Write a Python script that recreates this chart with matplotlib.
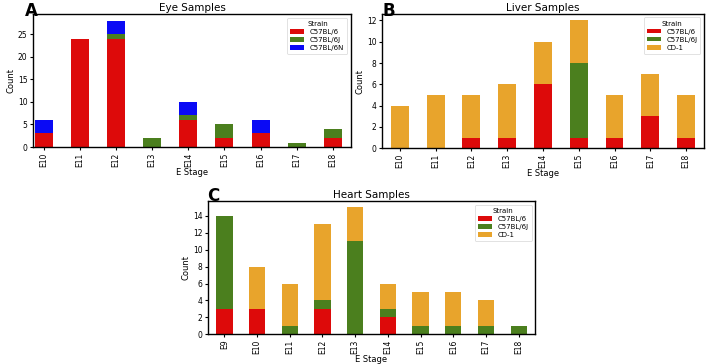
import numpy as np
import matplotlib
matplotlib.use("Agg")
import matplotlib.pyplot as plt

# colours for each strain
RED = "#dd0a0a"
GREEN = "#4b7f1e"
BLUE = "#0a0af5"
ORANGE = "#e8a42c"

eye_stages = ["E10", "E11", "E12", "E13", "E14", "E15", "E16", "E17", "E18"]
eye_b6 = [3, 24, 24, 0, 6, 2, 3, 0, 2]
eye_b6j = [0, 0, 1, 2, 1, 3, 0, 1, 2]
eye_b6n = [3, 0, 3, 0, 3, 0, 3, 0, 0]

liver_stages = ["E10", "E11", "E12", "E13", "E14", "E15", "E16", "E17", "E18"]
liver_b6 = [0, 0, 1, 1, 6, 1, 1, 3, 1]
liver_b6j = [0, 0, 0, 0, 0, 7, 0, 0, 0]
liver_cd1 = [4, 5, 4, 5, 4, 4, 4, 4, 4]

heart_stages = ["E9", "E10", "E11", "E12", "E13", "E14", "E15", "E16", "E17", "E18"]
heart_b6 = [3, 3, 0, 3, 0, 2, 0, 0, 0, 0]
heart_b6j = [11, 0, 1, 1, 11, 1, 1, 1, 1, 1]
heart_cd1 = [0, 5, 5, 9, 4, 3, 4, 4, 3, 0]


def stacked(ax, stages, series, title, xlim=None):
    x = np.arange(len(stages))
    bottom = np.zeros(len(stages))
    for name, vals, col in series:
        vals = np.array(vals, dtype=float)
        ax.bar(x, vals, 0.5, bottom=bottom, color=col, label=name)
        bottom += vals
    ax.set_xticks(x)
    ax.set_xticklabels(stages, rotation=90, fontsize=5.5)
    ax.tick_params(axis="y", labelsize=5.5, length=2.5, pad=1.5)
    ax.tick_params(axis="x", length=2.5, pad=1.5)
    ax.set_xlim(xlim if xlim else (-0.5, len(stages) - 0.5))
    ax.set_ylim(0, bottom.max() * 1.05)
    ax.set_title(title, fontsize=7.5, pad=2)
    ax.set_xlabel("E Stage", fontsize=6, labelpad=0.5)
    ax.set_ylabel("Count", fontsize=6, labelpad=2)
    leg = ax.legend(title="Strain", fontsize=5, title_fontsize=5,
                    loc="upper right", handlelength=2.0, handleheight=0.6,
                    borderpad=0.45, labelspacing=0.3)
    leg.get_frame().set_linewidth(0.5)
    for s in ax.spines.values():
        s.set_linewidth(1.0)


fig = plt.figure(figsize=(7.08, 3.64), dpi=100)

ax_a = fig.add_axes([0.0466, 0.596, 0.449, 0.365])
stacked(ax_a, eye_stages,
        [("C57BL/6", eye_b6, RED), ("C57BL/6J", eye_b6j, GREEN), ("C57BL/6N", eye_b6n, BLUE)],
        "Eye Samples", xlim=(-0.3, 8.5))

ax_b = fig.add_axes([0.5395, 0.5926, 0.4548, 0.369])
stacked(ax_b, liver_stages,
        [("C57BL/6", liver_b6, RED), ("C57BL/6J", liver_b6j, GREEN), ("CD-1", liver_cd1, ORANGE)],
        "Liver Samples")

ax_c = fig.add_axes([0.2938, 0.0816, 0.4619, 0.366])
stacked(ax_c, heart_stages,
        [("C57BL/6", heart_b6, RED), ("C57BL/6J", heart_b6j, GREEN), ("CD-1", heart_cd1, ORANGE)],
        "Heart Samples")

fig.text(25 / 708, 1 - 1.5 / 364, "A", fontsize=12, fontweight="bold", va="top")
fig.text(382 / 708, 1 - 1.5 / 364, "B", fontsize=12, fontweight="bold", va="top")
fig.text(207 / 708, 1 - 187 / 364, "C", fontsize=12, fontweight="bold", va="top")

fig.savefig("out.png", dpi=100)
